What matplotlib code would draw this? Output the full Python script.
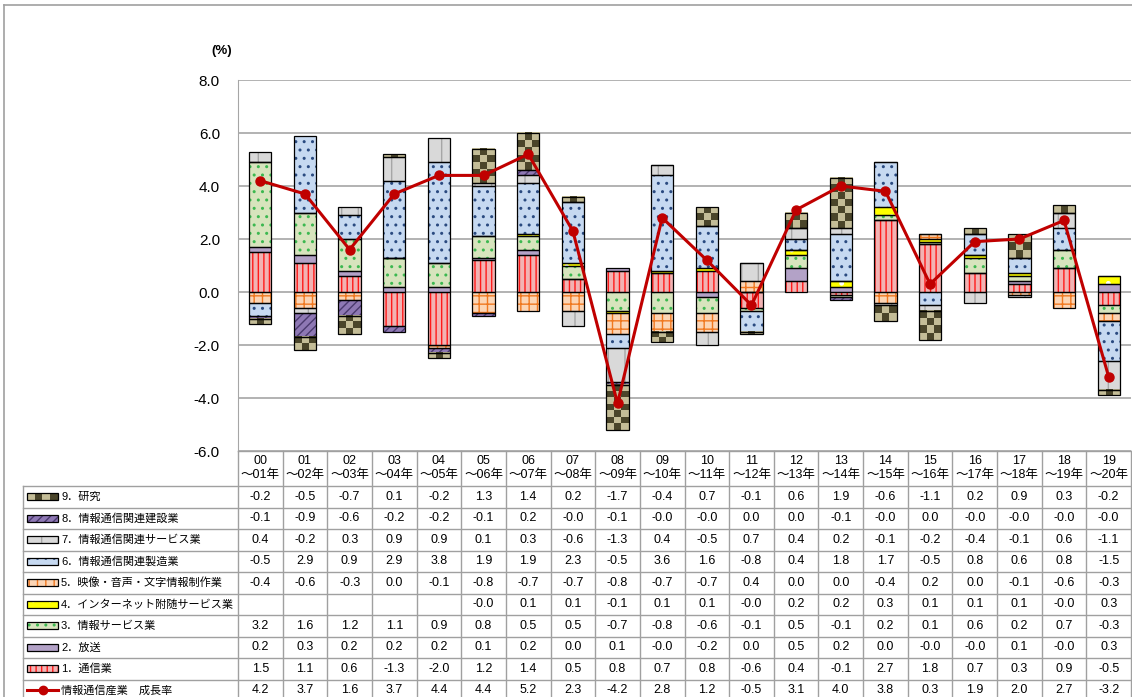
import numpy as np
import matplotlib
matplotlib.use("Agg")
import matplotlib.pyplot as plt
from matplotlib.colors import ListedColormap
from matplotlib.patches import Rectangle
from matplotlib.lines import Line2D

plt.rcParams['font.family'] = ['Liberation Sans', 'Noto Sans CJK JP', 'DejaVu Sans']
plt.rcParams['hatch.linewidth'] = 1.0

years_from = ['00', '01', '02', '03', '04', '05', '06', '07', '08', '09',
              '10', '11', '12', '13', '14', '15', '16', '17', '18', '19']
years_to = ['～01年', '～02年', '～03年', '～04年', '～05年', '～06年', '～07年', '～08年', '～09年', '～10年',
            '～11年', '～12年', '～13年', '～14年', '～15年', '～16年', '～17年', '～18年', '～19年', '～20年']

tsushin = [1.5, 1.1, 0.6, -1.3, -2.0, 1.2, 1.4, 0.5, 0.8, 0.7, 0.8, -0.6, 0.4, -0.1, 2.7, 1.8, 0.7, 0.3, 0.9, -0.5]
hoso = [0.2, 0.3, 0.2, 0.2, 0.2, 0.1, 0.2, 0.0, 0.1, -0.0, -0.2, 0.0, 0.5, 0.2, 0.0, -0.0, -0.0, 0.1, -0.0, 0.3]
joho_service = [3.2, 1.6, 1.2, 1.1, 0.9, 0.8, 0.5, 0.5, -0.7, -0.8, -0.6, -0.1, 0.5, -0.1, 0.2, 0.1, 0.6, 0.2, 0.7, -0.3]
internet = [None, None, None, None, None, -0.0, 0.1, 0.1, -0.1, 0.1, 0.1, -0.0, 0.2, 0.2, 0.3, 0.1, 0.1, 0.1, -0.0, 0.3]
eizo = [-0.4, -0.6, -0.3, 0.0, -0.1, -0.8, -0.7, -0.7, -0.8, -0.7, -0.7, 0.4, 0.0, 0.0, -0.4, 0.2, 0.0, -0.1, -0.6, -0.3]
seizo = [-0.5, 2.9, 0.9, 2.9, 3.8, 1.9, 1.9, 2.3, -0.5, 3.6, 1.6, -0.8, 0.4, 1.8, 1.7, -0.5, 0.8, 0.6, 0.8, -1.5]
kanren_service = [0.4, -0.2, 0.3, 0.9, 0.9, 0.1, 0.3, -0.6, -1.3, 0.4, -0.5, 0.7, 0.4, 0.2, -0.1, -0.2, -0.4, -0.1, 0.6, -1.1]
kensetsu = [-0.1, -0.9, -0.6, -0.2, -0.2, -0.1, 0.2, -0.0, -0.1, -0.0, -0.0, 0.0, 0.0, -0.1, -0.0, 0.0, -0.0, -0.0, -0.0, -0.0]
kenkyu = [-0.2, -0.5, -0.7, 0.1, -0.2, 1.3, 1.4, 0.2, -1.7, -0.4, 0.7, -0.1, 0.6, 1.9, -0.6, -1.1, 0.2, 0.9, 0.3, -0.2]
growth = [4.2, 3.7, 1.6, 3.7, 4.4, 4.4, 5.2, 2.3, -4.2, 2.8, 1.2, -0.5, 3.1, 4.0, 3.8, 0.3, 1.9, 2.0, 2.7, -3.2]

labels = ['1．通信業', '2．放送', '3．情報サービス業', '4．インターネット附随サービス業',
          '5．映像・音声・文字情報制作業', '6．情報通信関連製造業', '7．情報通信関連サービス業',
          '8．情報通信関連建設業', '9．研究']
growth_label = '情報通信産業　成長率'
series = [tsushin, hoso, joho_service, internet, eizo, seizo, kanren_service, kensetsu, kenkyu]

# ---- styles: face colour, hatch colour, hatch ----
faces = ['#F2B3B3', '#B3A2C7', '#D7E4BD', '#FFFF00', '#FCD5B5', '#C6D9F1', '#D9D9D9', '#8E78B4', '#C4BD97']
hcols = ['#FF1A1A', '#B3A2C7', '#3CB850', '#FFFFFF', '#F07820', '#2A4A80', '#A6A6A6', '#4B3A6E', '#C4BD97']
hatches = ['|||', None, '..', '.', '++', '..', '|', '////', None]
check_dark = '#4A452A'
line_red = '#C00000'
grid_gray = '#A6A6A6'


def checker(a, x, y, w, h, cw, ch, z):
    nx = max(1, int(round(abs(w) / cw)))
    ny = max(1, int(round(abs(h) / ch)))
    grid = np.indices((ny, nx)).sum(axis=0) % 2
    a.imshow(grid, cmap=ListedColormap([faces[8], check_dark]), extent=(x, x + w, y, y + h),
             aspect='auto', interpolation='nearest', zorder=z)


W, H = 1132, 697
fig = plt.figure(figsize=(W / 100, H / 100), dpi=100)
ax_l, ax_r, ax_t, ax_b = 238, 1131, 80, 451
ax = fig.add_axes([ax_l / W, 1 - ax_b / H, (ax_r - ax_l) / W, (ax_b - ax_t) / H])

n = len(growth)
x = np.arange(n)
pos_base = np.zeros(n)
neg_base = np.zeros(n)
bw = 0.5
for k, s in enumerate(series):
    v = np.array([0.0 if t is None else t for t in s])
    bottoms = np.where(v >= 0, pos_base, neg_base)
    bars = ax.bar(x, v, bw, bottom=bottoms, color=faces[k], edgecolor=hcols[k],
                  hatch=hatches[k], linewidth=0, zorder=2)
    if k == 8:
        for p in bars:
            if p.get_height() != 0:
                checker(ax, p.get_x(), p.get_y(), p.get_width(), p.get_height(), 0.16, 0.26, 2.5)
    ax.bar(x, v, bw, bottom=bottoms, fill=False, edgecolor='black', linewidth=0.9, zorder=3)
    pos_base += np.where(v > 0, v, 0)
    neg_base += np.where(v < 0, v, 0)

ax.plot(x, growth, color=line_red, lw=2.2, marker='o', ms=6.5, zorder=5)

ax.set_xlim(-0.5, n - 0.5)
ax.set_ylim(-6, 8)
ax.set_yticks(np.arange(-6, 8.1, 2))
ax.set_yticklabels([f'{t:.1f}' for t in np.arange(-6, 8.1, 2)], fontsize=11)
ax.tick_params(axis='y', length=0, pad=13)
ax.set_xticks([])
ax.yaxis.grid(True, color=grid_gray, lw=1.2)
ax.set_axisbelow(True)
for sp in ['top', 'right', 'bottom']:
    ax.spines[sp].set_visible(False)
ax.spines['left'].set_color(grid_gray)
ax.patch.set_alpha(0)

# ---- overlay in pixel coordinates: frame, unit label and data table ----
ov = fig.add_axes([0, 0, 1, 1])
ov.set_xlim(0, W)
ov.set_ylim(H, 0)
ov.axis('off')

tab_gray = '#A0A0A0'
ov.add_line(Line2D([4, W], [5, 5], color=tab_gray, lw=1.2))
ov.add_line(Line2D([4, 4], [5, H], color=tab_gray, lw=1.2))
ov.text(222, 51, '(%)', fontsize=9.5, fontweight='bold', ha='center', va='center')

colw = (ax_r - ax_l) / n
head_top, head_bot = ax_b, 486
rowh = 21.5
lab_l = 23
rows = list(range(8, -1, -1)) + ['growth']
tab_bot = head_bot + rowh * len(rows)
fs = 9

# vertical lines
for i in range(n + 1):
    ov.add_line(Line2D([ax_l + i * colw] * 2, [head_top, tab_bot], color=tab_gray, lw=1))
ov.add_line(Line2D([lab_l, lab_l], [head_bot, tab_bot], color=tab_gray, lw=1))
# horizontal lines
ov.add_line(Line2D([ax_l, ax_r], [head_top, head_top], color=tab_gray, lw=1))
for r in range(len(rows) + 1):
    ov.add_line(Line2D([lab_l, ax_r], [head_bot + r * rowh] * 2, color=tab_gray, lw=1))

for i in range(n):
    cx = ax_l + (i + 0.5) * colw
    ov.text(cx, 461, years_from[i], fontsize=fs, ha='center', va='center')
    ov.text(cx, 475, years_to[i], fontsize=fs, ha='center', va='center')

kx, kw, kh = 27, 31, 7
for r, key in enumerate(rows):
    cy = head_bot + (r + 0.5) * rowh
    if key == 'growth':
        vals = growth
        ov.add_line(Line2D([kx, kx + kw], [cy, cy], color=line_red, lw=2.2))
        ov.plot([kx + kw / 2], [cy], marker='o', ms=6, color=line_red)
        lab = growth_label
    else:
        vals = series[key]
        if key == 8:
            checker(ov, kx, cy + kh / 2, kw, -kh, 7, 7, 2)
        else:
            ov.add_patch(Rectangle((kx, cy - kh / 2), kw, kh, facecolor=faces[key], edgecolor=hcols[key],
                                   hatch=hatches[key], lw=0, zorder=2))
        ov.add_patch(Rectangle((kx, cy - kh / 2), kw, kh, fill=False, edgecolor='black', lw=0.9, zorder=3))
        lab = labels[key]
    ov.text(kx + kw + 3, cy, lab, fontsize=8, ha='left', va='center')
    for i, v in enumerate(vals):
        if v is None:
            continue
        ov.text(ax_l + (i + 0.5) * colw, cy, f'{v:.1f}', fontsize=fs, ha='center', va='center')

ov.set_xlim(0, W)
ov.set_ylim(H, 0)

fig.savefig('out.png', dpi=100)
